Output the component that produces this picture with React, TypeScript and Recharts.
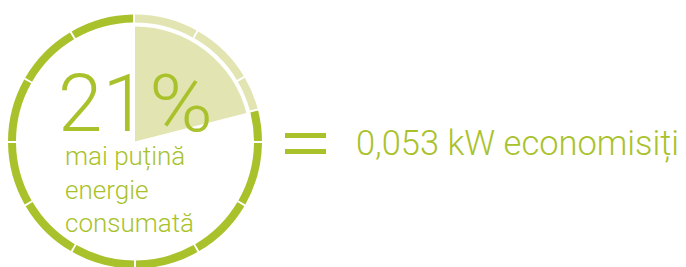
import React from "react";
import { PieChart, Pie, Cell } from "recharts";

const green = "#a9c22b";
const pale = "#e2e4b1";
const font = "Roboto, 'Liberation Sans', sans-serif";

// share of energy saved, in percent
const savedShare = [
  { name: "saved", value: 21 },
  { name: "rest", value: 79 },
];

// ring segments in degrees, clockwise from 12 o'clock
const ringSegments = [
  { name: "a", value: 30, saved: true },
  { name: "b", value: 30, saved: true },
  { name: "c", value: 15.6, saved: true },
  { name: "d", value: 14.4, saved: false },
  { name: "e", value: 30, saved: false },
  { name: "f", value: 30, saved: false },
  { name: "g", value: 30, saved: false },
  { name: "h", value: 30, saved: false },
  { name: "i", value: 30, saved: false },
  { name: "j", value: 30, saved: false },
  { name: "k", value: 30, saved: false },
  { name: "l", value: 30, saved: false },
  { name: "m", value: 30, saved: false },
];

const bigLabel = "21";
const subLines = ["mai puțină", "energie", "consumată"];
const resultLabel = "0,053 kW economisiți";

export default function App() {
  const W = 686;
  const H = 267;
  const cx = 135;
  const cy = 141.5;
  return (
    <div style={{ position: "fixed", left: 0, top: 0, width: W, height: H, background: "#fff", overflow: "hidden" }}>
      <PieChart width={W} height={H} margin={{ top: 0, right: 0, bottom: 0, left: 0 }}>
        <Pie
          data={savedShare}
          dataKey="value"
          cx={cx}
          cy={cy}
          startAngle={90}
          endAngle={-270}
          innerRadius={0}
          outerRadius={115}
          stroke="none"
          isAnimationActive={false}
        >
          {savedShare.map((d, i) => (
            <Cell key={i} fill={i === 0 ? pale : "transparent"} />
          ))}
        </Pie>
        <Pie
          data={ringSegments}
          dataKey="value"
          cx={cx}
          cy={cy}
          startAngle={90}
          endAngle={-270}
          innerRadius={119}
          outerRadius={127}
          paddingAngle={0.9}
          stroke="none"
          isAnimationActive={false}
        >
          {ringSegments.map((d, i) => (
            <Cell key={i} fill={d.saved ? pale : green} />
          ))}
        </Pie>
      </PieChart>
      <svg width={W} height={H} style={{ position: "absolute", left: 0, top: 0 }}>
        <text x={58} y={131} fill={green} fontFamily={font} fontWeight={300} fontSize={80}>
          {bigLabel}
        </text>
        <text x={149} y={131} fill={green} fontFamily={font} fontWeight={300} fontSize={80} textLength={64} lengthAdjust="spacingAndGlyphs">
          %
        </text>
        {subLines.map((t, i) => (
          <text key={t} x={65} y={165 + i * 33.5} fill={green} fontFamily={font} fontWeight={300} fontSize={26}>
            {t}
          </text>
        ))}
        <rect x={285} y={133} width={41} height={5} fill={green} />
        <rect x={285} y={149} width={41} height={5} fill={green} />
        <text x={356} y={155} fill={green} fontFamily={font} fontWeight={300} fontSize={35} textLength={323} lengthAdjust="spacingAndGlyphs">
          {resultLabel}
        </text>
      </svg>
    </div>
  );
}
